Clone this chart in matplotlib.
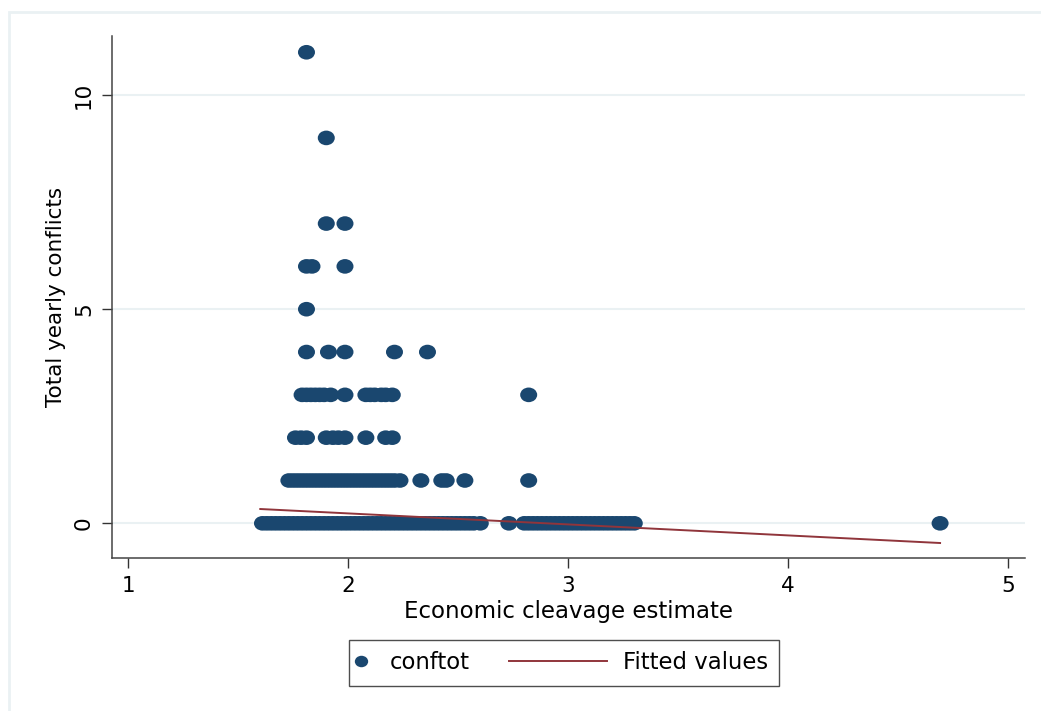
import numpy as np
import matplotlib
import matplotlib.pyplot as plt
from matplotlib.lines import Line2D
from matplotlib.patches import Rectangle
from matplotlib.path import Path
from matplotlib.transforms import Affine2D
from matplotlib.legend_handler import HandlerBase
matplotlib.use('Agg')

navy = '#1a476f'
maroon = '#90353b'
grid_col = '#eaf1f3'

# conftot values, one list of economic-cleavage x values per conflict count
x_at_0 = [1.61, 1.63, 1.65, 1.67, 1.69, 1.71, 1.73, 1.75, 1.77, 1.79, 1.81, 1.83,
          1.85, 1.87, 1.89, 1.91, 1.93, 1.95, 1.97, 1.99, 2.01, 2.03, 2.05, 2.07,
          2.09, 2.11, 2.13, 2.15, 2.17, 2.19, 2.21, 2.23, 2.25, 2.27, 2.29, 2.31,
          2.33, 2.35, 2.37, 2.39, 2.41, 2.43, 2.45, 2.47, 2.49, 2.51, 2.53, 2.55,
          2.57, 2.60, 2.73, 2.80, 2.82, 2.84, 2.86, 2.88, 2.90, 2.92, 2.94, 2.96,
          2.98, 3.00, 3.02, 3.04, 3.06, 3.08, 3.10, 3.12, 3.14, 3.16, 3.18, 3.20,
          3.22, 3.24, 3.26, 3.28, 3.30, 4.69]
x_at_1 = [1.73, 1.75, 1.77, 1.79, 1.81, 1.83, 1.85, 1.87, 1.89, 1.91, 1.93, 1.95,
          1.97, 1.99, 2.01, 2.03, 2.05, 2.07, 2.09, 2.11, 2.13, 2.15, 2.17, 2.19,
          2.21, 2.235, 2.33, 2.425, 2.445, 2.53, 2.82]
x_at_2 = [1.76, 1.785, 1.81, 1.90, 1.93, 1.955, 1.985, 2.08, 2.17, 2.20]
x_at_3 = [1.79, 1.81, 1.83, 1.85, 1.87, 1.89, 1.92, 1.985, 2.08, 2.10, 2.12,
          2.15, 2.17, 2.20, 2.82]
x_at_4 = [1.81, 1.91, 1.985, 2.21, 2.36]
x_at_5 = [1.81]
x_at_6 = [1.81, 1.835, 1.985]
x_at_7 = [1.90, 1.985]
x_at_9 = [1.90]
x_at_11 = [1.81]

rows = {0: x_at_0, 1: x_at_1, 2: x_at_2, 3: x_at_3, 4: x_at_4, 5: x_at_5,
        6: x_at_6, 7: x_at_7, 9: x_at_9, 11: x_at_11}

# fitted values (end points of the linear fit)
fit_x = [1.60, 4.69]
fit_y = [0.334, -0.46]

x_ticks = [1, 2, 3, 4, 5]
y_ticks = [0, 5, 10]

# slightly wide dot, like in the stata export
oval = Path.unit_circle().transformed(Affine2D().scale(1.0, 0.86))


class LegendMark(HandlerBase):
    # draws marker / line at fixed offsets so the two legend keys can differ in length
    def __init__(self, kind, x0, x1=0):
        super().__init__()
        self.kind, self.x0, self.x1 = kind, x0, x1

    def create_artists(self, legend, orig_handle, xdescent, ydescent, width, height, fontsize, trans):
        y = (height - ydescent) / 2
        if self.kind == 'marker':
            a = Line2D([-xdescent + self.x0], [y], marker=oval, ls='none',
                       markersize=9.6, color=navy, markeredgewidth=0)
        else:
            a = Line2D([-xdescent + self.x0, -xdescent + self.x1], [y, y], color=maroon, lw=1.4)
        a.set_transform(trans)
        return [a]


fig = plt.figure(figsize=(10.41, 7.11), dpi=100)
ax = fig.add_axes([112 / 1041, 1 - 558 / 711, 913 / 1041, 522 / 711])

for yv, xs in rows.items():
    sc = ax.scatter(xs, [yv] * len(xs), s=150, marker=oval, color=navy, edgecolors='none', zorder=3)
fit_line, = ax.plot(fit_x, fit_y, color=maroon, lw=1.4, zorder=4)

ax.set_xlim(0.926, 5.076)
ax.set_ylim(-0.81, 11.38)
ax.set_xticks(x_ticks)
ax.set_yticks(y_ticks)
ax.set_yticklabels([str(v) for v in y_ticks], rotation=90, va='center')
ax.tick_params(axis='both', direction='out', length=7, width=1, color='#333333',
               labelsize=15.5, pad=6)
ax.grid(axis='y', color=grid_col, lw=1.5, zorder=0)
ax.set_axisbelow(True)
for s in ['top', 'right']:
    ax.spines[s].set_visible(False)
for s in ['left', 'bottom']:
    ax.spines[s].set_color('#444444')
    ax.spines[s].set_linewidth(1.1)

ax.set_xlabel('Economic cleavage estimate', fontsize=16.5, labelpad=3)
ax.set_ylabel('Total yearly conflicts', fontsize=15.5, labelpad=6)

# outer graph region border
fig.patches.append(Rectangle((9 / 1041, -0.05), 1.1, 1 - 12 / 711 + 0.05, transform=fig.transFigure,
                             fill=False, edgecolor=grid_col, lw=2))

leg = fig.legend([sc, fit_line], ['conftot', 'Fitted values'], loc='center',
                 bbox_to_anchor=(0.542, 0.068), ncol=2, fontsize=16.4, frameon=True,
                 fancybox=False, edgecolor='#222222', borderpad=0.5, handlelength=0.8,
                 handletextpad=0.5, columnspacing=5.4,
                 handler_map={sc: LegendMark('marker', 0.0),
                              fit_line: LegendMark('line', -60.6, 10.0)})
leg.get_frame().set_linewidth(1.0)

plt.savefig('out.png', dpi=100)
